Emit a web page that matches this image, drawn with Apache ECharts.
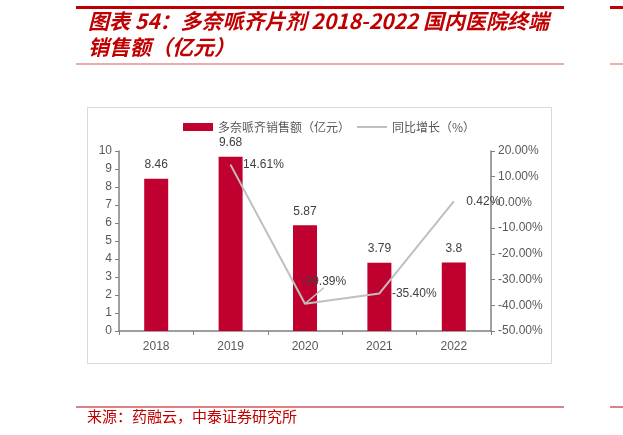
<!DOCTYPE html>
<html><head><meta charset="utf-8">
<script src="https://cdn.jsdelivr.net/npm/echarts@6/dist/echarts.min.js"></script>
<style>html,body{margin:0;padding:0;background:#fff}#c{width:623px;height:435px}</style>
</head><body><div id="c"></div>
<script>
var categories = ['2018', '2019', '2020', '2021', '2022'];
var salesValues = [8.46, 9.68, 5.87, 3.79, 3.8];
var growthValues = ['-', 14.61, -39.39, -35.40, 0.42];
var leftTicks = { min: 0, max: 10, interval: 1 };
var rightTicks = { min: -50, max: 20, interval: 10 };
var barName = '多奈哌齐销售额（亿元）';
var lineName = '同比增长（%）';
var titleLine1 = '图表 54：多奈哌齐片剂 2018-2022 国内医院终端';
var titleLine2 = '销售额（亿元）';
var sourceText = '来源：药融云，中泰证券研究所';

var RED = '#C00000';
var BAR = '#C0002F';
var LINE = '#BFBFBF';
var AX = '#808080';
var TXT = '#404040';
var numFont = '"Liberation Sans", Arial, sans-serif';
var cjkFont = '"Noto Sans CJK SC", sans-serif';

function pct(v) { return v.toFixed(2) + '%'; }

// line data items: the 2020 label is lifted with a leader line, as in the source
var growthData = growthValues.map(function (v, i) {
  if (i === 2) {
    return {
      value: v,
      label: {
        formatter: function (p) { return '{s|}\n{t|' + pct(p.value) + '}'; },
        rich: {
          s: { height: 24 },
          t: { color: TXT, fontSize: 12, fontFamily: numFont, height: 14 }
        }
      },
      labelLine: { show: true }
    };
  }
  return { value: v };
});

var chart = echarts.init(document.getElementById('c'), null, { renderer: 'canvas' });
chart.setOption({
  animation: false,
  backgroundColor: '#fff',
  graphic: [
    { type: 'rect', shape: { x: 76, y: 6, width: 488, height: 3 }, style: { fill: RED } },
    { type: 'rect', shape: { x: 610, y: 6, width: 13, height: 3 }, style: { fill: RED } },
    { type: 'text', left: 88, top: 11, style: { text: titleLine1, fill: RED, font: 'italic bold 21px ' + cjkFont } },
    { type: 'text', left: 88, top: 37, style: { text: titleLine2, fill: RED, font: 'italic bold 21px ' + cjkFont } },
    { type: 'rect', shape: { x: 76, y: 63.5, width: 488, height: 1 }, style: { fill: '#D65C5C' } },
    { type: 'rect', shape: { x: 610, y: 63.5, width: 13, height: 1 }, style: { fill: '#D65C5C' } },
    { type: 'rect', shape: { x: 87.5, y: 107.5, width: 464, height: 256 }, style: { fill: 'none', stroke: '#D9D9D9', lineWidth: 1 } },
    { type: 'rect', shape: { x: 76, y: 406.5, width: 488, height: 1 }, style: { fill: RED } },
    { type: 'rect', shape: { x: 610, y: 406.5, width: 13, height: 1 }, style: { fill: RED } },
    { type: 'text', left: 87, top: 409, style: { text: sourceText, fill: RED, font: '15px ' + cjkFont } }
  ],
  legend: {
    left: 178, top: 116, itemWidth: 30, itemHeight: 8, itemGap: 6,
    textStyle: { color: '#595959', fontSize: 12, fontFamily: cjkFont },
    data: [
      { name: barName, icon: 'rect' },
      { name: lineName, itemStyle: { opacity: 0 } }
    ]
  },
  grid: { left: 119, right: 132, top: 151, bottom: 104 },
  xAxis: {
    type: 'category', data: categories,
    axisLine: { lineStyle: { color: AX, width: 1.5 } },
    axisTick: { show: true, length: 4, lineStyle: { color: AX } },
    axisLabel: { color: '#595959', fontSize: 12, fontFamily: numFont, margin: 10 }
  },
  yAxis: [
    {
      type: 'value', min: leftTicks.min, max: leftTicks.max, interval: leftTicks.interval,
      splitLine: { show: false },
      axisLine: { show: true, lineStyle: { color: AX, width: 1.5 } },
      axisTick: { show: true, length: 4, lineStyle: { color: AX } },
      axisLabel: { color: '#595959', fontSize: 12, fontFamily: numFont, margin: 7 }
    },
    {
      type: 'value', min: rightTicks.min, max: rightTicks.max, interval: rightTicks.interval,
      position: 'right',
      splitLine: { show: false },
      axisLine: { show: true, lineStyle: { color: AX, width: 1.5 } },
      axisTick: { show: true, length: 4, lineStyle: { color: AX } },
      axisLabel: { color: '#595959', fontSize: 12, fontFamily: numFont, margin: 7,
        formatter: function (v) { return pct(v); } }
    }
  ],
  series: [
    {
      name: barName, type: 'bar', data: salesValues, barWidth: 24,
      itemStyle: { color: BAR },
      label: { show: true, position: 'top', distance: 8, color: TXT, fontSize: 12, fontFamily: numFont }
    },
    {
      name: lineName, type: 'line', yAxisIndex: 1, data: growthData,
      symbol: 'circle', symbolSize: 1,
      itemStyle: { color: LINE },
      lineStyle: { color: LINE, width: 2 },
      label: { show: true, position: 'right', distance: 12, color: TXT, fontSize: 12, fontFamily: numFont,
        formatter: function (p) { return pct(p.value); } },
      labelLine: { show: false, lineStyle: { color: LINE, width: 1.5 } },
      labelLayout: function (p) {
        if (p.dataIndex === 2) { return { dx: -16, dy: -34 }; }
        return {};
      }
    }
  ]
});
</script></body></html>
